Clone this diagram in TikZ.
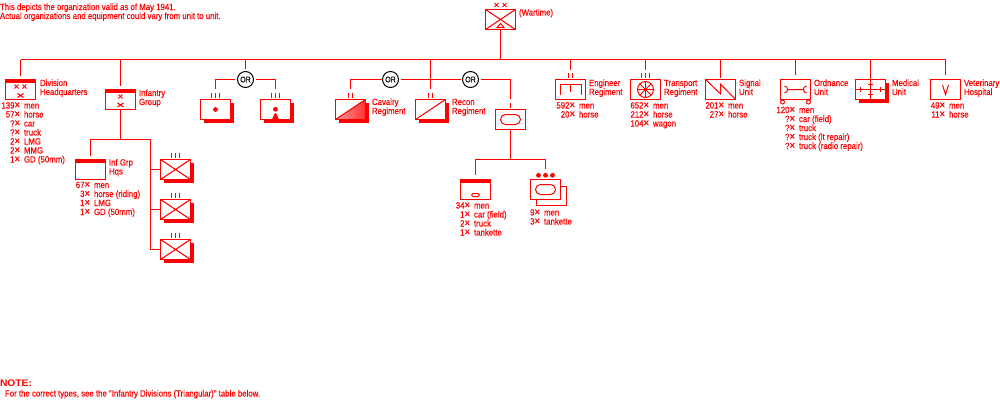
\documentclass[tikz,border=0pt]{standalone}
\usepackage{fontspec}
\usetikzlibrary{shadows}
\newfontfamily\bmf[FakeStretch=0.87,FakeBold=0.25]{Liberation Sans}
\newfontfamily\bmb[FakeStretch=1.08]{Liberation Sans}
\definecolor{ur}{RGB}{255,0,0}
\tikzset{x=1pt,y=-1pt,
  lnk/.style={draw=ur,line width=1pt},
  lbl/.style={anchor=base west,inner sep=0pt,outer sep=0pt,text=ur,font=\bmf\fontsize{9}{9}\selectfont},
  unitbox/.style={rectangle,draw=ur,line width=1pt,fill=white,minimum width=30pt,minimum height=20pt,inner sep=0pt,outer sep=0pt},
  shad/.style={unitbox,drop shadow={shadow xshift=3pt,shadow yshift=-3pt,fill=ur,opacity=1}},
  orc/.style={circle,draw=black,line width=1pt,fill=white,minimum size=16pt,inner sep=0pt,outer sep=0pt,text=black,font=\bmf\fontsize{8}{8}\selectfont},
}
\newcommand{\ub}[4][unitbox]{\node[#1] (#2) at (#3+15.5,#4+10.5) {};}
\newcommand{\band}[1]{\fill[ur] (#1.north west) rectangle ([yshift=-3.5pt]#1.north east);}
\newcommand{\exx}[2]{\draw[lnk] (#1-2,#2-2) -- (#1+2,#2+2) (#1-2,#2+2) -- (#1+2,#2-2);}
\newcommand{\bow}[2]{\draw[lnk] (#1-3,#2-2) -- (#1+3,#2+2) (#1-3,#2+2) -- (#1+3,#2-2);}
\newcommand{\txt}[4]{\node[lbl] (#1) at (#2,#3) {#4};}
\newcounter{rw}
\newcommand{\cnt}[4]{\stepcounter{rw}\node[lbl] (t\therw) at (#1,#2) {\makebox[14.5pt][r]{#3}\makebox[9.5pt][l]{{\fontsize{11}{9}\selectfont ×}}#4};}
\newcommand{\tk}[2]{\draw[lnk] (#1,#2) -- (#1,#2+5);}
\begin{document}
\begin{tikzpicture}
\useasboundingbox (0,0) rectangle (1000,400);
\fill[white] (0,0) rectangle (1000,400);
% header text
\txt{h1}{0}{10}{This depicts the organization valid as of May 1941.}
\txt{h2}{0}{19}{Actual organizations and equipment could vary from unit to unit.}
% top
\ub{top}{485}{9}
\draw[lnk] (top.north west) -- (top.south east) (top.south west) -- (top.north east);
\draw[lnk,fill=white] (497,27.5) -- (500.5,23.5) -- (504,27.5) -- cycle;
\exx{496.5}{5}\exx{504.5}{5}
\txt{wt}{519}{15.5}{(Wartime)}
% trunk
\coordinate (tL) at (20.5,59.5);
\coordinate (tR) at (945.5,59.5);
\draw[lnk] (tL) -- (tR);
\draw[lnk] (top.south) -- (top.south |- tL);
% div hq
\ub{div}{5}{79}\band{div}\exx{16.5}{86.5}\exx{24.5}{86.5}\bow{20.5}{95.5}
\draw[lnk] (tL) -- ([yshift=4pt]div.north);
\txt{l1}{40}{86}{Division}\txt{l2}{40}{95}{Headquarters}
\cnt{0}{108.5}{139}{men}\cnt{0}{117.5}{57}{horse}\cnt{0}{126.5}{?}{car}\cnt{0}{135.5}{?}{truck}\cnt{0}{144.5}{2}{LMG}\cnt{0}{153.5}{2}{MMG}\cnt{0}{162.5}{1}{GD (50mm)}
% infantry group
\ub{ig}{105}{89}\band{ig}\exx{120.5}{96.5}\bow{120.5}{105}
\draw[lnk] (ig.north |- tL) -- ([yshift=4pt]ig.north);
\txt{l3}{139}{96}{Infantry}\txt{l4}{139}{105}{Group}
\coordinate (igb) at (120.5,139.5);
\draw[lnk] (ig.south) -- (igb);
\ub{hq}{75}{159}\band{hq}
\ub[shad]{b1}{160}{159}\ub[shad]{b2}{160}{199}\ub[shad]{b3}{160}{239}
\foreach \n in {b1,b2,b3}{\draw[lnk] (\n.north west) -- (\n.south east) (\n.south west) -- (\n.north east);}
\foreach \y in {153,193,233}{\tk{171.5}{\y}\tk{175.5}{\y}\tk{179.5}{\y}}
\draw[lnk] ([yshift=4pt]hq.north) -- (hq.north |- igb) -- (150.5,139.5) |- (b3.west);
\draw[lnk] (150.5,169.5) -- (b1.west);
\draw[lnk] (150.5,209.5) -- (b2.west);
\txt{l5}{109}{165.5}{Inf Grp}\txt{l6}{109}{174.5}{Hqs}
\cnt{70}{188}{67}{men}\cnt{70}{197}{3}{horse (riding)}\cnt{70}{206}{1}{LMG}\cnt{70}{215}{1}{GD (50mm)}
% left OR
\node[orc] (or1) at (245.5,79.5) {OR};
\draw[lnk] (or1.north |- tL) -- ([yshift=2.5pt]or1.north);
\ub[shad]{a1}{200}{99}\ub[shad]{a2}{260}{99}
\draw[lnk,shorten <=3pt] (or1.west) -- (215.5,79.5) -- (215.5,88.5);
\draw[lnk,shorten <=2.5pt] (or1.east) -- (275.5,79.5) -- (275.5,88.5);
\foreach \x in {211.5,215.5,219.5,271.5,275.5,279.5}{\tk{\x}{93}}
\fill[ur] (a1.center) circle (2.4);
\fill[ur] (275.5,109.3) circle (2.4);
\fill[ur] (272,119.5) -- (275,113) -- (276,113) -- (279,119.5) -- cycle;
% middle OR
\node[orc] (or2) at (390.5,79.5) {OR};
\node[orc] (or3) at (470.5,79.5) {OR};
\ub[shad]{cv}{335}{99}\ub[shad]{rc}{415}{99}
\shade[left color=ur!40,right color=ur!80] (cv.south west) -- (cv.north east) -- (cv.south east) -- cycle;
\draw[ur,line width=1pt] (cv.south west) rectangle (cv.north east);
\draw[lnk] (cv.south west) -- (cv.north east);
\draw[lnk] (rc.south west) -- (rc.north east);
\draw[lnk,shorten <=1pt] (or2.west) -- (350.5,79.5) -- (350.5,88.5);
\draw[lnk,shorten <=2.5pt,shorten >=2pt] (or2.east) -- (or3.west);
\draw[lnk] (rc.north |- tL) -- (430.5,88.5);
\foreach \x in {348.5,352.5,428.5,432.5}{\tk{\x}{93}}
\txt{l7}{372}{105}{Cavalry}\txt{l8}{372}{114}{Regiment}
\txt{l9}{452}{105}{Recon}\txt{l10}{452}{114}{Regiment}
\ub{tq}{495}{109}
\node[draw=ur,line width=1pt,rounded corners=5pt,minimum width=20pt,minimum height=10pt,inner sep=0pt,outer sep=0pt] (tqo) at (tq.center) {};
\draw[lnk,shorten <=2.5pt] (or3.east) -- (510.5,79.5) -- (510.5,98.5);
\draw[lnk] (510.5,103) -- ([yshift=2pt]tq.north);
\coordinate (tb) at (510.5,159.5);
\draw[lnk] (tq.south) -- (tb);
\ub{t1}{460}{179}\band{t1}
\node[draw=ur,line width=1pt,rounded corners=1.5pt,minimum width=8pt,minimum height=3pt,inner sep=0pt,outer sep=0pt] (t1o) at (475.5,195) {};
\draw[lnk] (561,186.5) -- (566.5,186.5) -- (566.5,205.5) -- (536.5,205.5) -- (536.5,200);
\ub{t2}{530}{179}
\node[draw=ur,line width=1pt,rounded corners=5pt,minimum width=20pt,minimum height=10pt,inner sep=0pt,outer sep=0pt] (t2o) at (t2.center) {};
\foreach \x in {538.5,545.5,552.5}{\fill[ur] (\x,175.3) circle (2.4);}
\draw[lnk] ([yshift=5pt]t1.north) -- (t1.north |- tb) -- (545.5,159.5) -- (545.5,169);
\cnt{450}{208.5}{34}{men}\cnt{450}{217.5}{1}{car (field)}\cnt{450}{226.5}{2}{truck}\cnt{450}{235.5}{1}{tankette}
\cnt{520}{215.5}{9}{men}\cnt{520}{224.5}{3}{tankette}
% engineer
\ub{en}{555}{79}
\draw[lnk] (560.5,94.5) -- (560.5,84.5) -- (581.5,84.5) -- (581.5,94.5) (570.5,84.5) -- (570.5,91.5);
\draw[lnk] (en.north |- tL) -- (570.5,70);
\tk{568.5}{73}\tk{572.5}{73}
\txt{l11}{589}{86}{Engineer}\txt{l12}{589}{95}{Regiment}
\cnt{555}{108.5}{592}{men}\cnt{555}{117.5}{20}{horse}
% transport
\ub{tr}{630}{79}
\draw[lnk] (tr.center) circle (8);
\foreach \a in {0,45,...,315}{\draw[ur,line width=0.8pt] (tr.center) -- ++(\a:8);}
\fill[ur] (tr.center) circle (1.5);
\draw[lnk] (tr.north |- tL) -- (645.5,70);
\tk{641.5}{73}\tk{645.5}{73}\tk{649.5}{73}
\txt{l13}{664}{86}{Transport}\txt{l14}{664}{95}{Regiment}
\cnt{629}{108.5}{652}{men}\cnt{629}{117.5}{212}{horse}\cnt{629}{126.5}{104}{wagon}
% signal
\ub{sg}{705}{79}
\draw[lnk] (sg.north west) -- (720.5,94) -- (720.5,84) -- (sg.south east);
\draw[lnk] (sg.north |- tL) -- (720.5,78);
\txt{l15}{739}{86}{Signal}\txt{l16}{739}{95}{Unit}
\cnt{704}{108.5}{201}{men}\cnt{704}{117.5}{27}{horse}
% ordnance
\ub{od}{780}{79}
\draw[lnk] (784.5,86) .. controls (788.5,86) and (788.5,93) .. (784.5,93) (787.5,89.5) -- (803.5,89.5);
\draw[lnk] (806.5,86) .. controls (802.5,86) and (802.5,93) .. (806.5,93);
\draw[lnk,fill=white] (782.5,102) circle (2);
\draw[lnk,fill=white] (808.5,102) circle (2);
\draw[lnk] (od.north |- tL) -- (795.5,75);
\txt{l17}{814}{86}{Ordnance}\txt{l18}{814}{95}{Unit}
\cnt{775}{113}{120}{men}\cnt{775}{122}{?}{car (field)}\cnt{775}{131}{?}{truck}\cnt{775}{140}{?}{truck (lt repair)}\cnt{775}{149}{?}{truck (radio repair)}
% medical
\ub[shad]{md}{855}{79}
\draw[lnk] (md.west) -- (md.east) (md.north) -- (md.south);
\draw[lnk] (868,84.5) -- (873,84.5) (868,94.5) -- (873,94.5) (860.5,87) -- (860.5,92) (880.5,87) -- (880.5,92);
\draw[lnk] (md.north |- tL) -- (md.north);
\txt{l19}{892}{86}{Medical}\txt{l20}{892}{95}{Unit}
% vet
\ub{vt}{930}{79}
\draw[lnk] (942.5,85) -- (945.5,94.5) -- (948.5,85);
\draw[lnk] (tR) -- (945.5,75);
\txt{l21}{964}{86}{Veterinary}\txt{l22}{964}{95}{Hospital}
\cnt{925}{108.5}{49}{men}\cnt{925}{117.5}{11}{horse}
% note
\node[lbl,font=\bmb\bfseries\fontsize{9.5}{10}\selectfont] (n1) at (0,386.5) {NOTE:};
\txt{n2}{5}{396.5}{For the correct types, see the "Infantry Divisions (Triangular)" table below.}
\end{tikzpicture}
\end{document}
